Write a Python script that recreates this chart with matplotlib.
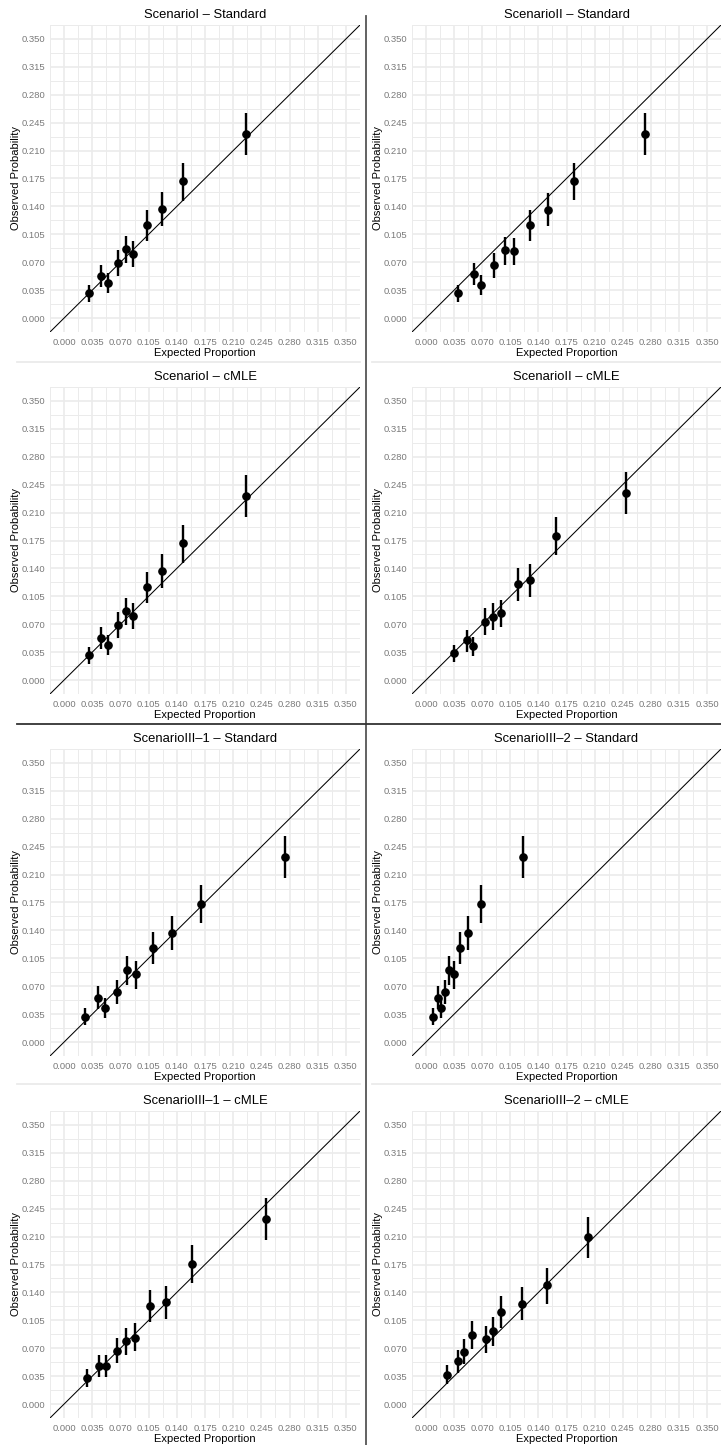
import matplotlib
matplotlib.use("Agg")
import matplotlib.pyplot as plt
import numpy as np
from matplotlib.ticker import MultipleLocator, FormatStrFormatter

plt.rcParams['font.family'] = ['Liberation Sans', 'DejaVu Sans']

titles = ["ScenarioI – Standard", "ScenarioII – Standard",
          "ScenarioI – cMLE", "ScenarioII – cMLE",
          "ScenarioIII–1 – Standard", "ScenarioIII–2 – Standard",
          "ScenarioIII–1 – cMLE", "ScenarioIII–2 – cMLE"]

# ScenarioI - Standard
s1_exp = [0.031, 0.046, 0.054, 0.0665, 0.077, 0.086, 0.103, 0.121, 0.148, 0.2257]
s1_obs = [0.0314, 0.0528, 0.044, 0.0687, 0.0863, 0.080, 0.117, 0.137, 0.1714, 0.231]
s1_lo = [0.020, 0.039, 0.031, 0.053, 0.069, 0.064, 0.097, 0.115, 0.1467, 0.2045]
s1_hi = [0.041, 0.067, 0.0566, 0.085, 0.1035, 0.097, 0.136, 0.158, 0.194, 0.257]

# ScenarioII - Standard
s2_exp = [0.0404, 0.0592, 0.069, 0.085, 0.098, 0.109, 0.1296, 0.1525, 0.1846, 0.273]
s2_obs = [0.0314, 0.0553, 0.042, 0.066, 0.085, 0.0847, 0.117, 0.136, 0.172, 0.231]
s2_lo = [0.0197, 0.041, 0.029, 0.050, 0.067, 0.066, 0.0964, 0.115, 0.148, 0.2045]
s2_hi = [0.041, 0.069, 0.054, 0.081, 0.102, 0.101, 0.136, 0.157, 0.195, 0.257]

# ScenarioI - cMLE
s3_exp = [0.031, 0.046, 0.054, 0.0665, 0.077, 0.086, 0.103, 0.121, 0.148, 0.2257]
s3_obs = [0.0314, 0.0528, 0.044, 0.0687, 0.0863, 0.080, 0.117, 0.137, 0.1714, 0.231]
s3_lo = [0.020, 0.039, 0.031, 0.053, 0.069, 0.064, 0.097, 0.115, 0.1467, 0.2045]
s3_hi = [0.041, 0.067, 0.0566, 0.085, 0.1035, 0.097, 0.136, 0.158, 0.194, 0.257]

# ScenarioII - cMLE
s4_exp = [0.0346, 0.0508, 0.0588, 0.074, 0.0838, 0.093, 0.1146, 0.130, 0.1625, 0.249]
s4_obs = [0.0335, 0.0499, 0.0428, 0.0734, 0.0796, 0.084, 0.1203, 0.1258, 0.1803, 0.2347]
s4_lo = [0.0226, 0.035, 0.030, 0.057, 0.063, 0.067, 0.0993, 0.104, 0.157, 0.2083]
s4_hi = [0.044, 0.0625, 0.0545, 0.090, 0.0964, 0.101, 0.140, 0.1455, 0.2045, 0.2607]

# ScenarioIII-1 - Standard
s5_exp = [0.0262, 0.042, 0.0507, 0.0657, 0.078, 0.0894, 0.1106, 0.1343, 0.170, 0.2743]
s5_obs = [0.0319, 0.0557, 0.0428, 0.0629, 0.090, 0.085, 0.1178, 0.137, 0.1735, 0.232]
s5_lo = [0.021, 0.042, 0.030, 0.0478, 0.072, 0.067, 0.098, 0.1157, 0.1496, 0.2062]
s5_hi = [0.0428, 0.070, 0.0553, 0.0775, 0.1077, 0.1014, 0.1383, 0.158, 0.197, 0.2586]

# ScenarioIII-2 - Standard
s6_exp = [0.0092, 0.015, 0.0188, 0.0242, 0.0292, 0.0346, 0.0425, 0.0525, 0.0688, 0.1213]
s6_obs = [0.0319, 0.0557, 0.0428, 0.0629, 0.090, 0.085, 0.1178, 0.137, 0.1735, 0.232]
s6_lo = [0.021, 0.042, 0.030, 0.0478, 0.072, 0.067, 0.098, 0.1157, 0.1496, 0.2062]
s6_hi = [0.0428, 0.070, 0.0553, 0.0775, 0.1077, 0.1014, 0.1383, 0.158, 0.197, 0.2586]

# ScenarioIII-1 - cMLE
s7_exp = [0.0287, 0.0436, 0.052, 0.0657, 0.0769, 0.0877, 0.1068, 0.126, 0.1588, 0.251]
s7_obs = [0.0327, 0.0474, 0.0474, 0.0666, 0.0788, 0.0834, 0.1228, 0.1278, 0.1756, 0.2326]
s7_lo = [0.0218, 0.0344, 0.0344, 0.052, 0.0616, 0.0666, 0.1023, 0.1069, 0.1517, 0.2062]
s7_hi = [0.0436, 0.0616, 0.0616, 0.0826, 0.0951, 0.1014, 0.1425, 0.1484, 0.199, 0.2586]

# ScenarioIII-2 - cMLE
s8_exp = [0.0258, 0.040, 0.0467, 0.0571, 0.0742, 0.0838, 0.0933, 0.1196, 0.1508, 0.2021]
s8_obs = [0.0365, 0.054, 0.0658, 0.0868, 0.0817, 0.0918, 0.1157, 0.1258, 0.1488, 0.2096]
s8_lo = [0.025, 0.0394, 0.050, 0.069, 0.0637, 0.0734, 0.0952, 0.1048, 0.1258, 0.1836]
s8_hi = [0.049, 0.068, 0.0813, 0.1044, 0.0985, 0.1086, 0.135, 0.1467, 0.1706, 0.2347]

panels = [(s1_exp, s1_obs, s1_lo, s1_hi), (s2_exp, s2_obs, s2_lo, s2_hi),
          (s3_exp, s3_obs, s3_lo, s3_hi), (s4_exp, s4_obs, s4_lo, s4_hi),
          (s5_exp, s5_obs, s5_lo, s5_hi), (s6_exp, s6_obs, s6_lo, s6_hi),
          (s7_exp, s7_obs, s7_lo, s7_hi), (s8_exp, s8_obs, s8_lo, s8_hi)]

W, H = 721, 1445
fig = plt.figure(figsize=(W / 100, H / 100), dpi=100)

lefts = [50, 412]
widths = [310, 309]
tops = [25, 387, 749, 1111]
ph = 307

lims = (-0.0175, 0.3675)
tick_col = '#7a7a7a'
grid_col = '#EBEBEB'

for i, (ex, ob, lo, hi) in enumerate(panels):
    r, c = divmod(i, 2)
    ax = fig.add_axes([lefts[c] / W, 1 - (tops[r] + ph) / H, widths[c] / W, ph / H])
    ax.set_xlim(*lims)
    ax.set_ylim(*lims)
    for s in ax.spines.values():
        s.set_visible(False)
    ax.xaxis.set_minor_locator(MultipleLocator(0.0175))
    ax.yaxis.set_minor_locator(MultipleLocator(0.0175))
    ax.xaxis.set_major_formatter(FormatStrFormatter('%.3f'))
    ax.yaxis.set_major_formatter(FormatStrFormatter('%.3f'))
    ticks = np.arange(0, 0.3501, 0.035)
    ax.set_xticks(ticks)
    ax.set_yticks(ticks)
    ax.grid(True, which='major', color=grid_col, lw=1.2)
    ax.grid(True, which='minor', color=grid_col, lw=0.7)
    ax.set_axisbelow(True)
    ax.tick_params(which='both', length=0)
    ax.tick_params(axis='x', labelsize=6.8, labelcolor=tick_col, pad=4.5)
    ax.tick_params(axis='y', labelsize=6.8, labelcolor=tick_col, pad=3.5)
    ax.axline((0, 0), slope=1, color='black', lw=0.75, zorder=2)
    ex_a = np.array(ex)
    ob_a = np.array(ob)
    ax.vlines(ex_a, lo, hi, color='black', lw=1.7, zorder=3)
    ax.plot(ex_a, ob_a, 'o', color='black', ms=5.2, zorder=4)
    ax.set_title(titles[i], fontsize=9.4, pad=5, color='black')
    ax.set_xlabel('Expected Proportion', fontsize=8, labelpad=0.5, color='black')
    ax.set_ylabel('Observed Probability', fontsize=8, labelpad=0.5, color='black')

# dividers
def fx(px):
    return px / W

def fy(py):
    return 1 - py / H

fig.add_artist(plt.Line2D([fx(366), fx(366)], [fy(16), fy(1445)], color='#555555', lw=1.3))
fig.add_artist(plt.Line2D([fx(17), fx(721)], [fy(724), fy(724)], color='#333333', lw=1.3))
for yy in [362, 1084]:
    fig.add_artist(plt.Line2D([fx(17), fx(360)], [fy(yy), fy(yy)], color=grid_col, lw=1.3))
    fig.add_artist(plt.Line2D([fx(372), fx(721)], [fy(yy), fy(yy)], color=grid_col, lw=1.3))

fig.savefig('out.png', dpi=100, facecolor='white')
